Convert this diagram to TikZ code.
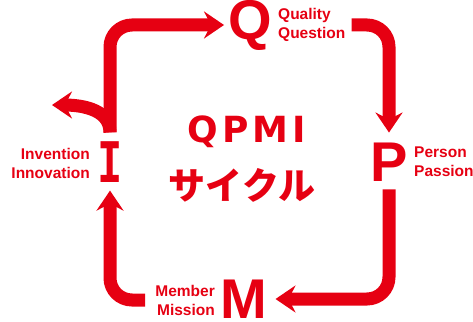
\documentclass[tikz,border=0pt]{standalone}
\usepackage{fontspec}
\setmainfont{Liberation Sans}
\newfontfamily\cjkfont{Noto Sans CJK JP}
\newfontfamily\heavyfont{DejaVu Sans}
\newfontfamily\slabfont{DejaVu Sans Mono}[FakeStretch=0.75]
\usetikzlibrary{arrows.meta,positioning}
\definecolor{qpmired}{RGB}{230,0,18}
\newcommand\gap{\kern4pt}
\tikzset{
  cyc/.style={line width=13pt, qpmired, rounded corners=22pt,
              -{Stealth[length=20pt, width=27pt, inset=7pt]}},
  bigletter/.style={inner sep=0pt, text=qpmired,
                    font=\fontsize{56}{56}\selectfont\bfseries},
  slabletter/.style={bigletter, font=\fontsize{56}{56}\selectfont\slabfont\bfseries},
  tag/.style={inner sep=0pt, text=qpmired,
              font=\fontsize{15.5}{19}\selectfont\bfseries},
  tagL/.style={tag, anchor=west, align=left},
  tagR/.style={tag, anchor=east, align=right},
  title/.style={inner sep=0pt, text=qpmired,
                font=\fontsize{36}{36}\selectfont\heavyfont\bfseries},
  subtitle/.style={inner sep=0pt, text=qpmired,
                   font=\fontsize{37}{37}\selectfont\cjkfont\bfseries},
}
\begin{document}
\begin{tikzpicture}[x=1pt, y=-1pt]
\useasboundingbox (0,0) rectangle (473,321);
% letters of the cycle
\node[bigletter] (Q) at (250,25) {Q};
\node[bigletter] (P) at (389,162) {P};
\node[bigletter] (M) at (244,299) {M};
\node[slabletter] (I) at (110,162) {I};
% keywords next to each letter
\node[tagL] (qtag) at (278,25) {Quality\\Question};
\node[tagL] (ptag) at (414,162) {Person\\Passion};
\node[tagR] (mtag) at (215,300) {Member\\Mission};
\node[tagR] (itag) at (90,163) {Invention\\Innovation};
% centre
\node[title] (qpmi) at (247,132) {Q\gap P\gap M\gap I};
\node[subtitle] (cycle) at (242,185) {サイクル};
% arrows
\coordinate (fork) at ([yshift=9pt]I.north);
\coordinate (branch) at (52,105);
\draw[cyc] (fork) to[out=90, in=0] (branch);
\draw[cyc] (fork) |- ([xshift=-4pt]Q.west);
\draw[cyc] ([xshift=6pt]qtag.east) -| ([yshift=10pt]P.north);
\draw[cyc] ([yshift=-8pt]P.south) |- ([xshift=8pt]M.east);
\draw[cyc] ([xshift=-10pt]mtag.west) -| ([yshift=-8pt]I.south);
\end{tikzpicture}
\end{document}
